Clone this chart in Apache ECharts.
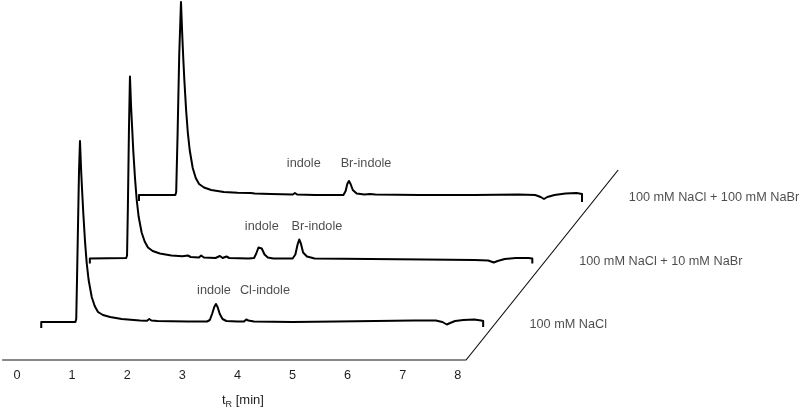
<!DOCTYPE html>
<html>
<head>
<meta charset="utf-8">
<script src="https://cdn.jsdelivr.net/npm/echarts@6/dist/echarts.min.js"></script>
<style>html,body{margin:0;padding:0;background:#fff}#c{width:800px;height:411px}</style>
</head>
<body>
<div id="c"></div>
<script>
// Time axis ticks (min)
const tickValues = [0, 1, 2, 3, 4, 5, 6, 7, 8];
// Trace names (front to back)
const traceNames = ['100 mM NaCl', '100 mM NaCl + 10 mM NaBr', '100 mM NaCl + 100 mM NaBr'];
// Chromatogram traces: [retention time (min), signal (a.u.)], each relative to its own baseline
const traceNaCl = [[0.44,-6],[0.44,0],[1.06,0],[1.075,3],[1.09,45],[1.11,105],[1.125,150],[1.143,181],[1.165,150],[1.185,128],[1.203,109],[1.235,80],[1.265,59],[1.30,42],[1.356,25],[1.41,16],[1.47,10],[1.56,7],[1.69,5],[1.9,3],[2.23,1.5],[2.36,1.2],[2.40,3],[2.44,1.5],[2.55,1],[2.8,0.8],[3.1,0.5],[3.45,0.5],[3.50,2],[3.54,8],[3.58,15],[3.61,18],[3.64,15],[3.68,8],[3.73,3],[3.80,1],[4.0,0.5],[4.12,0.5],[4.16,2.5],[4.20,1.5],[4.30,0.5],[5.0,0],[5.8,0.5],[6.5,1],[7.2,1.5],[7.6,1.5],[7.72,0],[7.8,-2.5],[7.86,-1],[7.95,1],[8.1,2],[8.3,2.5],[8.42,1.5],[8.46,1],[8.46,-5]];
const traceNaBr10 = [[0.42,-5],[0.42,0],[1.08,0.5],[1.095,3],[1.11,50],[1.13,130],[1.148,182],[1.17,150],[1.19,128],[1.208,108],[1.24,80],[1.27,59],[1.305,42],[1.36,26],[1.415,17],[1.475,11],[1.56,7.5],[1.69,5],[1.9,3],[2.1,2.2],[2.20,3],[2.25,1.5],[2.40,1],[2.44,3],[2.49,1],[2.7,0.5],[2.78,2.5],[2.83,0.5],[2.90,2],[2.95,0.5],[3.3,0],[3.40,0.5],[3.44,5],[3.48,11],[3.51,13],[3.54,10],[3.59,4],[3.65,1],[3.75,0],[4.10,0],[4.15,4],[4.19,14],[4.22,19],[4.25,15],[4.29,6],[4.36,2],[4.5,0],[5.5,-0.5],[6.5,-1],[7.4,-1.5],[7.65,-2],[7.75,-4],[7.82,-2.5],[7.95,-0.5],[8.15,0.5],[8.38,0.5],[8.45,0],[8.45,-5]];
const traceNaBr100 = [[0.41,-6],[0.41,0],[1.07,0],[1.085,3],[1.11,60],[1.14,140],[1.172,193],[1.195,160],[1.215,135],[1.233,115],[1.265,85],[1.295,63],[1.33,45],[1.385,27],[1.44,17],[1.50,11],[1.59,7.5],[1.72,5],[1.95,3],[2.2,2.2],[2.44,2],[2.47,3],[2.51,1.5],[2.8,1],[3.2,0.5],[3.24,2],[3.28,0.5],[3.6,0],[4.12,0],[4.16,4],[4.19,11],[4.22,14],[4.25,11],[4.29,5],[4.36,1.5],[4.5,0.5],[4.6,1],[4.7,0.5],[5.5,0],[6.5,0],[7.3,0.5],[7.6,0],[7.70,-2],[7.76,-4],[7.82,-2],[7.95,0],[8.15,1.5],[8.35,2],[8.45,1],[8.45,-7]];
// Peak annotations per trace
const peakNames = [['indole','Cl-indole'],['indole','Br-indole'],['indole','Br-indole']];
const peakLabelTimes = [[3.575,4.50],[3.54,4.54],[3.40,4.53]];
const peakLabelLevel = 32;
const traceLabelTime = 9.3;
const traceLabelLevel = -2.5;
// Pseudo-3D depth offset between successive traces (time, signal)
const depthShift = [0.902, 63.5];
// Floor of the pseudo-3D frame: [time, signal]
const floorFrame = [[-0.27,-38],[8.15,-38],[10.91,152]];

const traces = [traceNaCl, traceNaBr10, traceNaBr100];
const font = "'Liberation Sans', Arial, Helvetica, sans-serif";
const textColor = '#1e1e1e';

const series = [];
series.push({
  type: 'line', data: floorFrame, symbol: 'none', clip: false, silent: true,
  lineStyle: {color: '#111', width: 1.2}
});
traces.forEach((tr, k) => {
  series.push({
    type: 'line', name: traceNames[k], symbol: 'none', clip: false, silent: true,
    data: tr.map(p => [p[0] + k * depthShift[0], p[1] + k * depthShift[1]]),
    lineStyle: {color: '#000', width: 2, join: 'round'}
  });
  const lbls = peakNames[k].map((n, i) => ({
    name: n, value: [peakLabelTimes[k][i] + k * depthShift[0], peakLabelLevel + k * depthShift[1]]
  }));
  lbls.push({
    name: traceNames[k],
    value: [traceLabelTime + k * depthShift[0], traceLabelLevel + k * depthShift[1]],
    label: {position: 'right', distance: 0, align: 'left'}
  });
  series.push({
    type: 'scatter', data: lbls, symbolSize: 0, silent: true, clip: false,
    label: {show: true, formatter: '{b}', position: 'inside', color: textColor,
      fontFamily: font, fontSize: 12.7}
  });
});

const chart = echarts.init(document.getElementById('c'));
chart.setOption({
  animation: false,
  backgroundColor: '#fff',
  title: {
    text: '{a|t}{b|R}{a| [min]}',
    left: 217, top: 386,
    textStyle: {
      rich: {
        a: {fontFamily: font, fontSize: 13, fontWeight: 'normal', color: textColor, lineHeight: 18, verticalAlign: 'middle'},
        b: {fontFamily: font, fontSize: 9, fontWeight: 'normal', color: textColor, lineHeight: 18, verticalAlign: 'bottom', padding: [6, 0, 0, 0]}
      }
    }
  },
  grid: {left: 0, right: 0, top: 0, bottom: 51, containLabel: false},
  xAxis: {
    type: 'value', min: -0.3085, max: 14.21,
    axisLine: {show: false, onZero: false}, axisTick: {show: false}, splitLine: {show: false},
    axisLabel: {
      margin: 9, color: textColor, fontFamily: font, fontSize: 12.7,
      customValues: tickValues
    }
  },
  yAxis: {
    type: 'value', min: -38, max: 322, show: false,
    splitLine: {show: false}
  },
  series: series
});
</script>
</body>
</html>
